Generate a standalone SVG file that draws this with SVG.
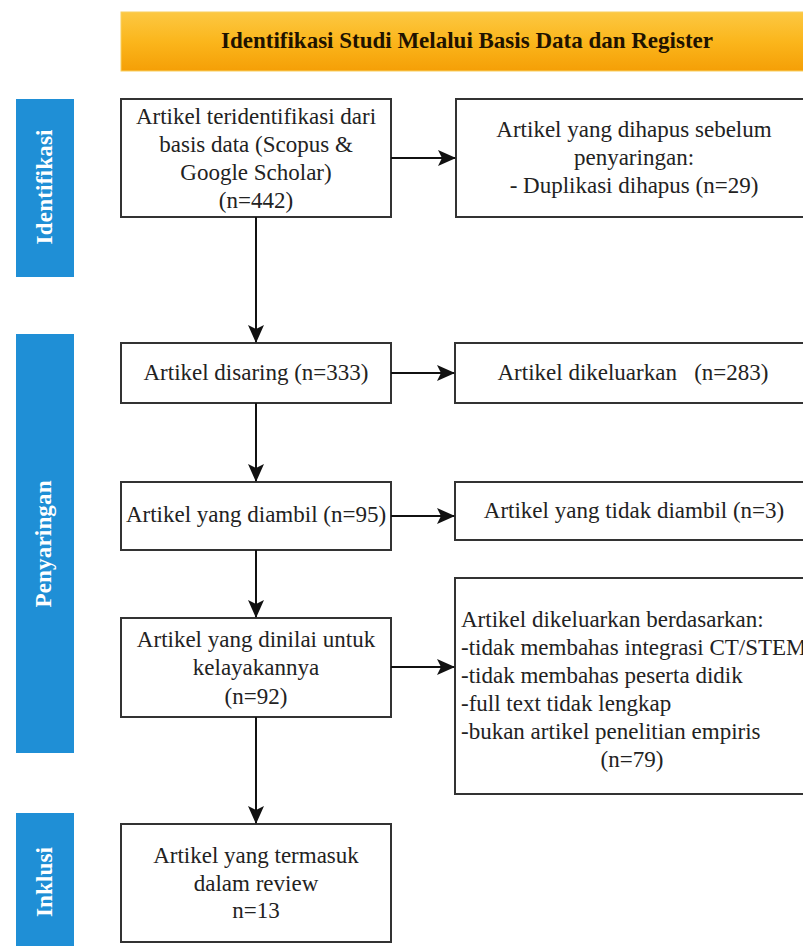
<svg xmlns="http://www.w3.org/2000/svg" width="803" height="946" viewBox="0 0 803 946">
<defs>
<linearGradient id="og" x1="0" y1="0" x2="0" y2="1">
<stop offset="0" stop-color="#fcc843"/>
<stop offset="0.5" stop-color="#fbb61c"/>
<stop offset="1" stop-color="#f59f06"/>
</linearGradient>
<marker id="ah" markerUnits="userSpaceOnUse" markerWidth="18" markerHeight="18" viewBox="0 0 18 16" refX="17" refY="8" orient="auto">
<path d="M0,0 L18,8 L0,16 L4,8 z" fill="#111"/>
</marker>
<style>
.box{fill:#fff;stroke:#333;stroke-width:2}
.side{fill:#1f8fd6}
.t{font-family:"Liberation Serif","Times New Roman",serif;font-size:23px;fill:#222}
.c{text-anchor:middle}
.vl{font-family:"Liberation Serif","Times New Roman",serif;font-size:23px;font-weight:bold;fill:#fff;text-anchor:middle}
.con{stroke:#111;stroke-width:2;fill:none;marker-end:url(#ah)}
</style>
</defs>
<rect width="803" height="946" fill="#fff"/>

<g id="banner">
<rect x="121" y="12" width="690" height="59" fill="url(#og)" stroke="#f8cf60" stroke-width="1"/>
<text x="467" y="48" class="t c" style="font-weight:bold;fill:#1f1300">Identifikasi Studi Melalui Basis Data dan Register</text>
</g>

<g id="side-identifikasi">
<rect class="side" x="16" y="99" width="58" height="178"/>
<text class="vl" transform="translate(52,187) rotate(-90)" textLength="115" lengthAdjust="spacing">Identifikasi</text>
</g>
<g id="side-penyaringan">
<rect class="side" x="16" y="334" width="58" height="419"/>
<text class="vl" transform="translate(51,544) rotate(-90)" textLength="127" lengthAdjust="spacing">Penyaringan</text>
</g>
<g id="side-inklusi">
<rect class="side" x="16" y="813" width="58" height="140"/>
<text class="vl" transform="translate(52,882) rotate(-90)" textLength="70" lengthAdjust="spacing">Inklusi</text>
</g>

<g id="b1">
<rect class="box" x="121" y="99" width="270" height="118"/>
<text class="t c" x="256" y="124">Artikel teridentifikasi dari</text>
<text class="t c" x="256" y="152">basis data (Scopus &amp;</text>
<text class="t c" x="256" y="180">Google Scholar)</text>
<text class="t c" x="256" y="208">(n=442)</text>
</g>
<g id="r1">
<rect class="box" x="456" y="99" width="360" height="118"/>
<text class="t c" x="634" y="137">Artikel yang dihapus sebelum</text>
<text class="t c" x="634" y="165">penyaringan:</text>
<text class="t c" x="634" y="193">- Duplikasi dihapus (n=29)</text>
</g>

<g id="b2">
<rect class="box" x="121" y="343" width="270" height="60"/>
<text class="t c" x="256" y="380">Artikel disaring (n=333)</text>
</g>
<g id="r2">
<rect class="box" x="455" y="343" width="360" height="60"/>
<text class="t c" x="633" y="380" xml:space="preserve">Artikel dikeluarkan   (n=283)</text>
</g>

<g id="b3">
<rect class="box" x="121" y="482" width="270" height="68"/>
<text class="t c" x="256" y="522">Artikel yang diambil (n=95)</text>
</g>
<g id="r3">
<rect class="box" x="455" y="482" width="360" height="58"/>
<text class="t c" x="634" y="518">Artikel yang tidak diambil (n=3)</text>
</g>

<g id="b4">
<rect class="box" x="121" y="618" width="270" height="99"/>
<text class="t c" x="256" y="647">Artikel yang dinilai untuk</text>
<text class="t c" x="256" y="675">kelayakannya</text>
<text class="t c" x="256" y="704">(n=92)</text>
</g>
<g id="r4">
<rect class="box" x="455" y="578" width="360" height="216"/>
<text class="t" x="461" y="627">Artikel dikeluarkan berdasarkan:</text>
<text class="t" x="461" y="655">-tidak membahas integrasi CT/STEM</text>
<text class="t" x="461" y="683">-tidak membahas peserta didik</text>
<text class="t" x="461" y="711">-full text tidak lengkap</text>
<text class="t" x="461" y="739">-bukan artikel penelitian empiris</text>
<text class="t c" x="632" y="767">(n=79)</text>
</g>

<g id="b5">
<rect class="box" x="121" y="824" width="270" height="118"/>
<text class="t c" x="256" y="863">Artikel yang termasuk</text>
<text class="t c" x="256" y="891">dalam review</text>
<text class="t c" x="256" y="918">n=13</text>
</g>

<g id="connectors">
<line class="con" x1="391" y1="158" x2="455" y2="158"/>
<line class="con" x1="256" y1="217" x2="256" y2="342"/>
<line class="con" x1="391" y1="373" x2="454" y2="373"/>
<line class="con" x1="256" y1="403" x2="256" y2="481"/>
<line class="con" x1="391" y1="516" x2="454" y2="516"/>
<line class="con" x1="256" y1="550" x2="256" y2="617"/>
<line class="con" x1="391" y1="667" x2="454" y2="667"/>
<line class="con" x1="256" y1="717" x2="256" y2="823"/>
</g>
</svg>
